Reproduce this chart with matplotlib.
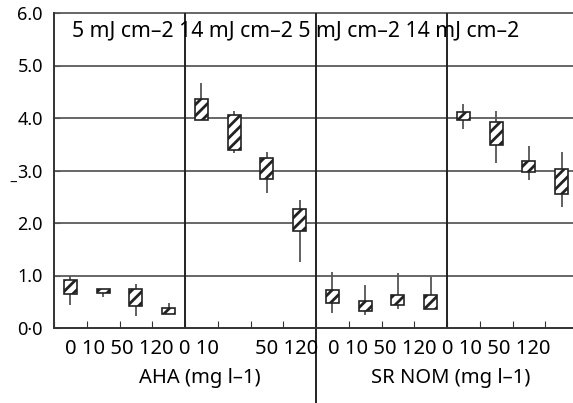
import matplotlib
matplotlib.use("Agg")
import matplotlib.pyplot as plt

plt.rcParams['font.family'] = ['Noto Sans', 'DejaVu Sans']
plt.rcParams['hatch.linewidth'] = 2.0

# 4 panels x 4 concentrations (0, 10, 50, 120 mg/l)
panels = ["5 mJ AHA", "14 mJ AHA", "5 mJ SR NOM", "14 mJ SR NOM"]
conc_labels = ["0", "10", "50", "120"]

q3 = [0.91, 0.74, 0.74, 0.39,
      4.37, 4.05, 3.23, 2.26,
      0.72, 0.51, 0.63, 0.63,
      4.11, 3.92, 3.19, 3.02]
q1 = [0.64, 0.66, 0.41, 0.26,
      3.97, 3.39, 2.84, 1.85,
      0.48, 0.32, 0.43, 0.36,
      3.97, 3.49, 2.98, 2.56]
whi_hi = [0.99, 0.75, 0.84, 0.47,
          4.67, 4.13, 3.36, 2.43,
          1.07, 0.82, 1.05, 0.98,
          4.27, 4.14, 3.47, 3.35]
whi_lo = [0.44, 0.60, 0.22, 0.26,
          3.97, 3.34, 2.57, 1.26,
          0.28, 0.25, 0.37, 0.36,
          3.80, 3.15, 2.82, 2.31]

yticks = [0, 1, 2, 3, 4, 5, 6]
ytick_labels = ["0·0", "1.0", "2.0", "3.0", "4.0", "5.0", "6.0"]

fig = plt.figure(figsize=(5.73, 4.03), dpi=100)
ax = fig.add_axes([54 / 573, 75 / 403, 519 / 573, 315 / 403])

n = len(q1)
xpos = [i + 0.5 for i in range(n)]
heights = [t - b for t, b in zip(q3, q1)]

# horizontal grid
for y in yticks[1:]:
    ax.axhline(y, color="#666666", lw=1.4, zorder=1, clip_on=False)

# panel separators
for xs in [4, 8, 12]:
    ax.axvline(xs, color="#222222", lw=1.4, zorder=2)
ax.axvline(8, ymin=-0.24, ymax=0, color="#222222", lw=1.4, clip_on=False)

ax.vlines(xpos, whi_lo, whi_hi, color="#555555", lw=1.3, zorder=3)
ax.bar(xpos, heights, bottom=q1, width=0.4, facecolor="white",
       edgecolor="#222222", hatch="///", lw=1.2, zorder=4)

ax.set_xlim(0, 519 / 32.75)
ax.set_ylim(0, 6)
ax.set_yticks(yticks)
ax.set_yticklabels(ytick_labels, fontsize=13)
ax.set_xticks(range(0, 16))
ax.set_xticklabels([])
ax.tick_params(axis="x", direction="in", length=5, color="#333333")
ax.tick_params(axis="y", direction="in", length=4, color="#555555", pad=8)

ax.spines["right"].set_visible(False)
ax.spines["top"].set_visible(False)
ax.spines["left"].set_color("#333333")
ax.spines["bottom"].set_color("#333333")
ax.spines["left"].set_linewidth(1.4)
ax.spines["bottom"].set_linewidth(1.4)

fs = 14.5
ax.text(0.55, 5.65, "5 mJ cm–2 14 mJ cm–2 5 mJ cm–2 14 mJ cm–2",
        fontsize=15.3, va="center", ha="left", zorder=5)

def fx(px):
    return px / 573

def fy(py):
    return 1 - py / 403

fig.text(fx(65), fy(349), " ".join(conc_labels) + " 0 10", fontsize=fs,
         va="center", ha="left")
fig.text(fx(255), fy(349), "50 120", fontsize=fs, va="center", ha="left")
fig.text(fx(328), fy(349), " ".join(conc_labels) + " " + " ".join(conc_labels),
         fontsize=fs, va="center", ha="left")
fig.text(fx(200), fy(378), "AHA (mg l–1)", fontsize=fs, va="center", ha="center")
fig.text(fx(451), fy(378), "SR NOM (mg l–1)", fontsize=fs, va="center", ha="center")
fig.text(fx(13), fy(183), "–", fontsize=11, va="center", ha="center")

fig.savefig("out.png", dpi=100)
